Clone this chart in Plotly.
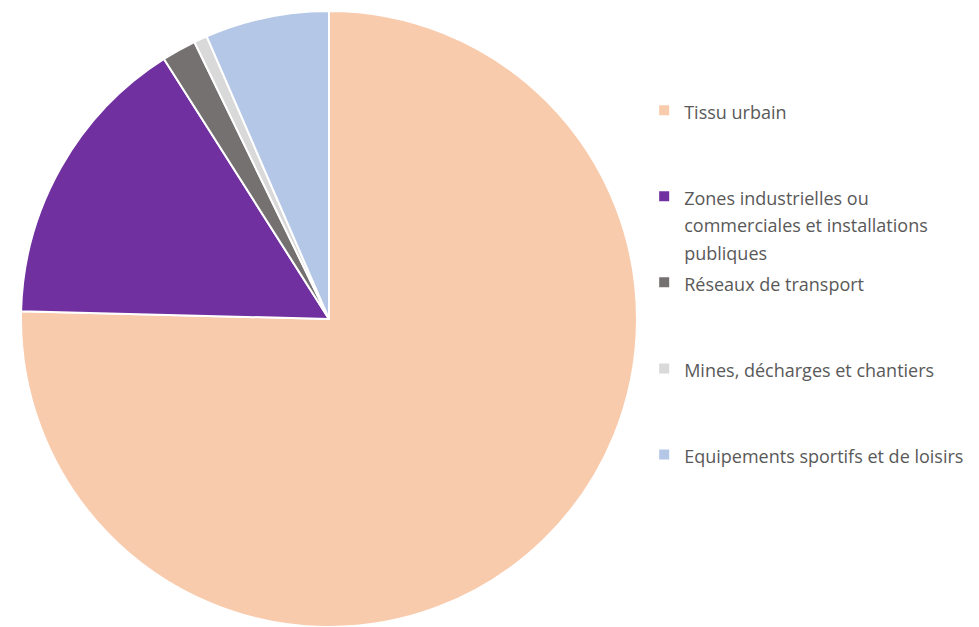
import plotly.graph_objects as go

categories = [
    "Tissu urbain",
    "Zones industrielles ou<br>commerciales et installations<br>publiques",
    "Réseaux de transport",
    "Mines, décharges et chantiers",
    "Equipements sportifs et de loisirs",
]
values = [75.4, 15.6, 1.8, 0.7, 6.5]
colors = ["#F8CBAD", "#7030A0", "#767171", "#D9D9D9", "#B4C7E7"]

# pad each legend entry to 3 lines so entries are evenly spaced
def pad(label, n=3):
    lines = label.split("<br>")
    styled = ["<span style='font-size:18px'>%s</span>" % l for l in lines]
    styled += ["\u00a0"] * (n - len(lines))
    return "<br>".join(styled)

labels = [pad(c) for c in categories]

W, H = 979, 627
cx, R = 329, 308

fig = go.Figure(go.Pie(
    labels=labels,
    values=values,
    sort=False,
    direction="clockwise",
    rotation=0,
    textinfo="none",
    hoverinfo="skip",
    marker=dict(colors=colors, line=dict(color="white", width=2)),
    domain=dict(x=[(cx - R) / W, (cx + R) / W], y=[0, 1]),
))

fig.update_layout(
    width=W, height=H,
    margin=dict(l=0, r=0, t=11, b=0),
    paper_bgcolor="white",
    plot_bgcolor="white",
    showlegend=True,
    legend=dict(
        x=0.658, xanchor="left",
        y=0.872, yanchor="top",
        valign="top",
        font=dict(family="Open Sans", size=21.3, color="#595959"),
        bgcolor="rgba(0,0,0,0)",
    ),
)

fig.write_html("out.html")
